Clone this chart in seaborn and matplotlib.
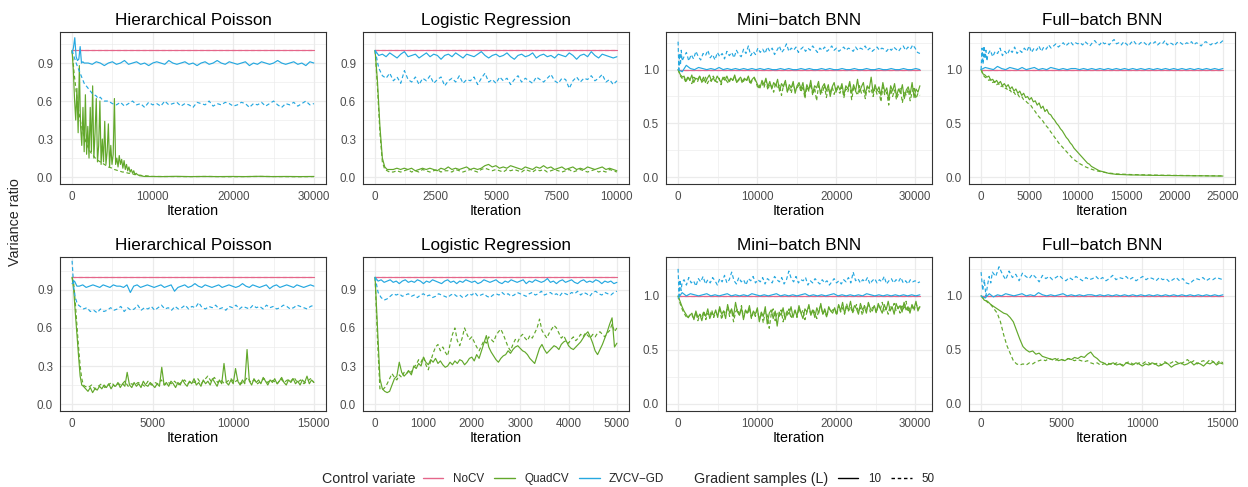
import numpy as np
import pandas as pd
import matplotlib
matplotlib.use("Agg")
import matplotlib.pyplot as plt
from matplotlib.lines import Line2D
import seaborn as sns

sns.set_theme(style="white")
plt.rcParams["font.family"] = ["Liberation Sans", "DejaVu Sans"]

# ---------------------------------------------------------------- data
CV_LEVELS = ["NoCV", "QuadCV", "ZVCV\u2212GD"]
L_LEVELS = [10, 50]
CV_COLORS = {"NoCV": "#E5668A", "QuadCV": "#62A82B", "ZVCV\u2212GD": "#25A8E0"}

TITLES = ["Hierarchical Poisson", "Logistic Regression",
          "Mini\u2212batch BNN", "Full\u2212batch BNN"]

# each series: list of (first iteration, last iteration, variance ratios on an even grid)
flat_hp1 = [(0, 30000, [1.0, 1.0])]
flat_lr1 = [(0, 10000, [1.0, 1.0])]
flat_mb = [(0, 30600, [1.0, 1.0])]
flat_fb1 = [(0, 25000, [1.0, 1.0])]
flat_hp2 = [(0, 15000, [1.0, 1.0])]
flat_lr2 = [(0, 5000, [1.0, 1.0])]
flat_fb2 = [(0, 15000, [1.0, 1.0])]

# Hierarchical Poisson, top row
hp1_quad10 = [
    (0, 9000, [1.00, 0.85, 0.62, 0.45, 0.70, 0.35, 0.88, 0.40, 0.25, 0.55, 0.20, 0.65, 0.18, 0.40,
               0.15, 0.55, 0.20, 0.72, 0.15, 0.35, 0.62, 0.12, 0.25, 0.60, 0.10, 0.30, 0.12, 0.44,
               0.10, 0.20, 0.42, 0.08, 0.25, 0.10, 0.18, 0.62, 0.10, 0.15, 0.08, 0.17, 0.10, 0.14,
               0.07, 0.13, 0.06, 0.10, 0.05, 0.08, 0.04, 0.06, 0.03, 0.05, 0.02, 0.03, 0.02, 0.015,
               0.01, 0.01, 0.008, 0.006, 0.005]),
    (9500, 30000, [0.005, 0.004, 0.006, 0.004, 0.005, 0.004, 0.005, 0.004, 0.006, 0.004, 0.005,
                   0.004, 0.005]),
]
hp1_quad50 = [
    (0, 10000, [1.00, 0.82, 0.68, 0.55, 0.45, 0.38, 0.32, 0.27, 0.23, 0.20, 0.18, 0.16, 0.14, 0.13,
                0.12, 0.11, 0.10, 0.09, 0.08, 0.075, 0.07, 0.06, 0.055, 0.05, 0.045, 0.04, 0.04,
                0.035, 0.03, 0.03, 0.025, 0.02, 0.02, 0.015, 0.015, 0.01, 0.01, 0.01, 0.008, 0.006,
                0.005]),
    (10500, 30000, [0.005, 0.004, 0.004, 0.005, 0.003, 0.004, 0.005, 0.004, 0.003, 0.004]),
]
hp1_zv10 = [
    (0, 1500, [0.98, 1.02, 1.10, 0.95, 0.92, 0.93, 1.03, 0.90, 0.91, 0.90]),
    (2000, 30000, [0.90, 0.89, 0.91, 0.90, 0.88, 0.90, 0.91, 0.89, 0.90, 0.92, 0.89, 0.90, 0.91, 0.89,
                   0.90, 0.88, 0.90, 0.91, 0.90, 0.89, 0.92, 0.90, 0.89, 0.90, 0.91, 0.89, 0.90, 0.88,
                   0.90, 0.91, 0.89, 0.90, 0.92, 0.90, 0.89, 0.91, 0.90, 0.89, 0.90, 0.91, 0.88, 0.90,
                   0.89, 0.91, 0.90, 0.89, 0.90, 0.92, 0.90, 0.89, 0.90, 0.91, 0.89, 0.90, 0.88, 0.91,
                   0.90]),
]
hp1_zv50 = [
    (0, 4000, [1.00, 0.95, 0.90, 0.86, 0.82, 0.78, 0.74, 0.72, 0.70, 0.68, 0.66, 0.65, 0.64, 0.62,
               0.63, 0.61, 0.60]),
    (4500, 30000, [0.60, 0.58, 0.57, 0.59, 0.56, 0.58, 0.60, 0.57, 0.58, 0.55, 0.59, 0.57, 0.58, 0.56,
                   0.60, 0.57, 0.58, 0.59, 0.56, 0.58, 0.57, 0.55, 0.59, 0.58, 0.57, 0.60, 0.56, 0.58,
                   0.57, 0.59, 0.58, 0.56, 0.57, 0.59, 0.58, 0.55, 0.58, 0.57, 0.59, 0.56, 0.58, 0.60,
                   0.57, 0.55, 0.58, 0.57, 0.59, 0.56, 0.58, 0.60, 0.57, 0.58]),
]

# Logistic Regression, top row
lr1_quad10 = [
    (0, 600, [1.00, 0.75, 0.40, 0.15, 0.08, 0.06, 0.06]),
    (750, 10000, [0.06, 0.07, 0.06, 0.07, 0.06, 0.07, 0.05, 0.06, 0.07, 0.06, 0.07, 0.06, 0.05, 0.07,
                  0.06, 0.08, 0.06, 0.07, 0.06, 0.07, 0.08, 0.06, 0.07, 0.06, 0.07, 0.09, 0.10, 0.08,
                  0.09, 0.07, 0.08, 0.07, 0.09, 0.08, 0.07, 0.06, 0.08, 0.07, 0.06, 0.08, 0.07, 0.09,
                  0.07, 0.08, 0.06, 0.07, 0.08, 0.06, 0.07, 0.08, 0.06, 0.07, 0.06, 0.08, 0.07, 0.06,
                  0.07, 0.08, 0.06, 0.07, 0.06, 0.05]),
]
lr1_quad50 = [
    (0, 600, [1.00, 0.70, 0.35, 0.12, 0.06, 0.05, 0.04]),
    (750, 10000, [0.04, 0.05, 0.04, 0.05, 0.06, 0.04, 0.05, 0.04, 0.06, 0.05, 0.04, 0.05, 0.06, 0.04,
                  0.05, 0.05, 0.04, 0.06, 0.05, 0.04, 0.05, 0.06, 0.05, 0.04, 0.06, 0.07, 0.06, 0.05,
                  0.06, 0.05, 0.04, 0.06, 0.05, 0.06, 0.05, 0.04, 0.06, 0.05, 0.04, 0.06, 0.05, 0.06,
                  0.04, 0.05, 0.06, 0.05, 0.04, 0.05, 0.06, 0.04, 0.05, 0.06, 0.05, 0.04, 0.05, 0.06,
                  0.04, 0.05, 0.04, 0.06, 0.05, 0.04]),
]
lr1_zv10 = [
    (0, 10000, [1.00, 0.96, 0.97, 0.95, 0.98, 0.96, 0.94, 0.97, 0.99, 0.95, 0.96, 0.97, 0.94, 0.96,
                0.98, 0.95, 0.97, 0.96, 0.93, 0.96, 0.97, 0.95, 0.98, 0.96, 0.94, 0.97, 0.96, 0.95,
                0.97, 0.99, 0.96, 0.94, 0.96, 0.97, 0.95, 0.96, 0.98, 0.95, 0.93, 0.96, 0.97, 0.95,
                0.96, 0.98, 0.94, 0.96, 0.97, 0.95, 0.96, 0.94, 0.97, 0.96, 0.95, 0.98, 0.96, 0.93,
                0.96, 0.97, 0.95, 0.99, 0.96, 0.94, 0.97, 0.96, 0.95, 0.94, 0.95]),
]
lr1_zv50 = [
    (0, 10000, [1.00, 0.86, 0.80, 0.78, 0.82, 0.76, 0.79, 0.74, 0.84, 0.77, 0.75, 0.79, 0.73, 0.78,
                0.76, 0.80, 0.74, 0.77, 0.79, 0.72, 0.76, 0.78, 0.75, 0.80, 0.74, 0.77, 0.76, 0.79,
                0.73, 0.78, 0.82, 0.75, 0.77, 0.74, 0.79, 0.76, 0.78, 0.73, 0.77, 0.80, 0.75, 0.78,
                0.76, 0.74, 0.79, 0.77, 0.75, 0.78, 0.81, 0.76, 0.74, 0.78, 0.77, 0.70, 0.76, 0.79,
                0.75, 0.78, 0.77, 0.80, 0.76, 0.78, 0.81, 0.75, 0.77, 0.73, 0.76]),
]

# Mini-batch BNN, top row
mb1_quad10 = [
    (0, 600, [1.00, 0.95, 0.93]),
    (750, 30600, [0.94, 0.89, 0.93, 0.90, 0.95, 0.88, 0.92, 0.91, 0.94, 0.89, 0.93, 0.88, 0.92, 0.95,
                  0.90, 0.92, 0.89, 0.94, 0.91, 0.88, 0.93, 0.90, 0.94, 0.89, 0.92, 0.90, 0.95, 0.88,
                  0.91, 0.93, 0.89, 0.92, 0.90, 0.94, 0.88, 0.91, 0.93, 0.89, 0.85, 0.83,
                  0.90, 0.86, 0.92, 0.84, 0.89, 0.82, 0.88, 0.85, 0.91, 0.80, 0.87, 0.84, 0.90, 0.79,
                  0.86, 0.83, 0.89, 0.78, 0.85, 0.88,
                  0.82, 0.88, 0.76, 0.86, 0.81, 0.90, 0.78, 0.85, 0.83, 0.89, 0.77, 0.84, 0.87, 0.80,
                  0.86, 0.75, 0.84, 0.88, 0.79, 0.85,
                  0.81, 0.87, 0.76, 0.85, 0.82, 0.89, 0.78, 0.86, 0.80, 0.91, 0.79, 0.84, 0.88, 0.77,
                  0.85, 0.82, 0.93, 0.78, 0.86, 0.80,
                  0.84, 0.76, 0.88, 0.79, 0.83, 0.72, 0.85, 0.80, 0.87, 0.75, 0.82, 0.78, 0.86, 0.73,
                  0.81, 0.84, 0.77, 0.88, 0.74, 0.82, 0.79, 0.85]),
]
mb1_quad50 = [
    (0, 600, [1.00, 0.94, 0.91]),
    (750, 30600, [0.92, 0.88, 0.94, 0.90, 0.87, 0.93, 0.91, 0.89, 0.94, 0.88, 0.90, 0.93, 0.87, 0.91,
                  0.89, 0.94, 0.90, 0.88, 0.92, 0.86, 0.91, 0.93, 0.89, 0.87, 0.92, 0.90, 0.94, 0.88,
                  0.90, 0.92, 0.87, 0.91, 0.89, 0.93, 0.86, 0.90, 0.92, 0.88, 0.82, 0.86,
                  0.88, 0.83, 0.90, 0.81, 0.87, 0.84, 0.79, 0.88, 0.82, 0.86, 0.76, 0.85, 0.89, 0.80,
                  0.84, 0.78, 0.87, 0.81, 0.83, 0.86,
                  0.79, 0.85, 0.73, 0.84, 0.80, 0.87, 0.76, 0.83, 0.71, 0.85, 0.81, 0.78, 0.86, 0.74,
                  0.82, 0.79, 0.84, 0.77, 0.83, 0.80,
                  0.78, 0.84, 0.74, 0.82, 0.79, 0.86, 0.72, 0.83, 0.80, 0.76, 0.85, 0.78, 0.81, 0.73,
                  0.84, 0.79, 0.82, 0.75, 0.83, 0.77,
                  0.80, 0.70, 0.84, 0.76, 0.79, 0.67, 0.82, 0.75, 0.81, 0.72, 0.78, 0.83, 0.69, 0.80,
                  0.76, 0.82, 0.71, 0.79, 0.84, 0.73, 0.78, 0.76]),
]
mb1_zv10 = [
    (0, 30600, [1.00, 0.98, 1.04, 1.01, 1.00, 1.02, 1.01, 1.00, 1.01, 1.00, 1.02, 1.00, 1.01, 1.00,
                1.01, 1.00, 1.01, 1.00, 1.01, 1.00, 1.01, 1.00, 1.01, 1.00, 1.00, 1.01, 1.00, 1.01,
                1.00, 1.00, 1.01, 1.00, 1.01, 1.00, 1.00, 1.01, 1.00, 1.01, 1.00, 1.00, 1.01, 1.00,
                1.00, 1.01, 1.00, 1.00, 1.01, 1.00, 1.00, 1.01, 1.00, 1.00, 1.01, 1.00, 1.00, 1.01,
                1.00, 1.00, 1.01, 1.00]),
]
mb1_zv50 = [
    (0, 500, [1.26, 1.00, 1.15, 1.04, 1.18, 1.08]),
    (750, 30600, [1.12, 1.16, 1.08, 1.14, 1.10, 1.17, 1.12, 1.09, 1.15, 1.13, 1.18, 1.11, 1.14, 1.09,
                  1.16, 1.12, 1.15, 1.10, 1.17, 1.13, 1.16, 1.11, 1.18, 1.14, 1.12, 1.19, 1.15, 1.22,
                  1.13, 1.17, 1.14, 1.20,
                  1.16, 1.19, 1.15, 1.21, 1.17, 1.20, 1.14, 1.18, 1.22, 1.16, 1.19, 1.24, 1.17, 1.20,
                  1.18, 1.21, 1.16,
                  1.19, 1.21, 1.17, 1.20, 1.18, 1.22, 1.19, 1.16, 1.20, 1.18, 1.21, 1.17, 1.19, 1.22,
                  1.18, 1.20, 1.17, 1.19, 1.21, 1.18, 1.20, 1.19, 1.17, 1.21, 1.18, 1.20, 1.19, 1.22,
                  1.18, 1.20, 1.17, 1.19, 1.21, 1.18, 1.20, 1.19, 1.17, 1.20, 1.18, 1.21, 1.19, 1.17,
                  1.20, 1.22, 1.18, 1.21, 1.19, 1.23, 1.20, 1.16, 1.15]),
]

# Full-batch BNN, top row
fb1_quad10 = [
    (0, 14000, [1.00, 0.96, 0.95, 0.93, 0.94, 0.90, 0.91, 0.88, 0.90, 0.87, 0.89, 0.85, 0.87, 0.84,
                0.86, 0.82, 0.84, 0.80, 0.82, 0.78, 0.80, 0.76, 0.78, 0.74, 0.75, 0.72, 0.74, 0.70,
                0.71, 0.67, 0.69, 0.64, 0.66, 0.61, 0.63, 0.59, 0.58, 0.55, 0.53, 0.50, 0.48, 0.45,
                0.43, 0.40, 0.37, 0.35, 0.32, 0.30, 0.27, 0.25, 0.23, 0.21, 0.19, 0.17, 0.15, 0.13,
                0.12, 0.10, 0.09, 0.08, 0.07, 0.06, 0.055, 0.05, 0.045, 0.04, 0.035, 0.032, 0.03,
                0.028, 0.025]),
    (14500, 25000, [0.024, 0.022, 0.02, 0.02, 0.019, 0.018, 0.017, 0.016, 0.016, 0.015, 0.015,
                    0.014, 0.014, 0.013, 0.013, 0.012, 0.012, 0.012, 0.011, 0.011, 0.01, 0.01]),
]
fb1_quad50 = [
    (0, 14000, [1.00, 0.95, 0.93, 0.92, 0.90, 0.91, 0.88, 0.89, 0.86, 0.87, 0.84, 0.85, 0.82, 0.83,
                0.80, 0.81, 0.78, 0.79, 0.76, 0.77, 0.74, 0.75, 0.72, 0.71, 0.69, 0.68, 0.66, 0.63,
                0.61, 0.58, 0.56, 0.54, 0.52, 0.49, 0.47, 0.45, 0.42, 0.40, 0.37, 0.35, 0.32, 0.30,
                0.28, 0.26, 0.24, 0.22, 0.20, 0.18, 0.165, 0.15, 0.14, 0.125, 0.115, 0.105, 0.095,
                0.088, 0.08, 0.074, 0.068, 0.062, 0.058, 0.054, 0.05, 0.047, 0.044, 0.041, 0.038,
                0.036, 0.034, 0.032, 0.03]),
    (14500, 25000, [0.028, 0.026, 0.024, 0.023, 0.022, 0.021, 0.02, 0.019, 0.018, 0.017, 0.017,
                    0.016, 0.016, 0.015, 0.015, 0.014, 0.014, 0.013, 0.013, 0.012, 0.012, 0.012]),
]
fb1_zv10 = [
    (0, 25000, [1.00, 1.02, 1.01, 1.00, 1.03, 1.01, 1.00, 1.02, 1.01, 1.00, 1.02, 1.00, 1.01, 1.02,
                1.00, 1.01, 1.00, 1.02, 1.01, 1.00, 1.01, 1.00, 1.01, 1.01, 1.00, 1.01, 1.00, 1.01,
                1.00, 1.01, 1.00, 1.01, 1.00, 1.01, 1.00, 1.01, 1.00, 1.01, 1.00, 1.01, 1.00, 1.01,
                1.00, 1.01, 1.00, 1.01, 1.00, 1.01, 1.00, 1.01, 1.00, 1.01, 1.00, 1.01, 1.00, 1.01,
                1.00, 1.01, 1.00, 1.01]),
]
fb1_zv50 = [
    (0, 600, [1.00, 1.20, 1.05, 1.22, 1.10, 1.18, 1.08]),
    (700, 10000, [1.14, 1.18, 1.12, 1.17, 1.15, 1.20, 1.13, 1.17, 1.14, 1.19, 1.16, 1.21, 1.15, 1.18,
                  1.16, 1.20, 1.17, 1.22, 1.16, 1.20, 1.18, 1.22, 1.17, 1.21, 1.19, 1.23, 1.20, 1.22,
                  1.24, 1.21, 1.23, 1.25, 1.22, 1.24, 1.26, 1.23, 1.25, 1.24]),
    (10250, 25000, [1.25, 1.23, 1.26, 1.24, 1.22, 1.25, 1.27, 1.24, 1.23, 1.26, 1.24, 1.25, 1.23,
                    1.26, 1.28, 1.24, 1.25, 1.23, 1.26, 1.24, 1.22, 1.25, 1.27, 1.24, 1.23, 1.25,
                    1.26, 1.24, 1.22, 1.25, 1.24, 1.26, 1.23, 1.25, 1.24, 1.27, 1.23, 1.25, 1.24,
                    1.22, 1.25, 1.26, 1.24, 1.23, 1.25, 1.24, 1.26, 1.23, 1.25, 1.24, 1.22, 1.25,
                    1.26, 1.24, 1.23, 1.25, 1.24, 1.26, 1.25, 1.27]),
]

# Hierarchical Poisson, bottom row
hp2_quad10 = [
    (0, 600, [1.00, 0.90, 0.72, 0.55, 0.38, 0.22, 0.15]),
    (700, 15000, [0.14, 0.12, 0.10, 0.13, 0.09, 0.12, 0.11, 0.14, 0.12, 0.15,
                  0.13, 0.16, 0.12, 0.15, 0.14, 0.17, 0.13, 0.16, 0.14, 0.25,
                  0.15, 0.13, 0.17, 0.14, 0.16, 0.13, 0.18, 0.15, 0.14, 0.17,
                  0.15, 0.13, 0.16, 0.14, 0.29, 0.15, 0.17, 0.14, 0.18, 0.16,
                  0.13, 0.17, 0.15, 0.19, 0.16, 0.14, 0.18, 0.16, 0.20, 0.15,
                  0.17, 0.14, 0.19, 0.16, 0.18, 0.15, 0.20, 0.17, 0.14, 0.19,
                  0.16, 0.32, 0.17, 0.15, 0.19, 0.16, 0.28, 0.18, 0.15, 0.19,
                  0.16, 0.43, 0.18, 0.15, 0.20, 0.17, 0.19, 0.16, 0.21, 0.18,
                  0.15, 0.19, 0.17, 0.20, 0.16, 0.18, 0.21, 0.17, 0.15, 0.19,
                  0.17, 0.20, 0.16, 0.18, 0.15, 0.19, 0.17, 0.22, 0.16, 0.19, 0.17]),
]
hp2_quad50 = [
    (0, 700, [1.00, 0.95, 0.80, 0.62, 0.45, 0.30, 0.20, 0.15]),
    (800, 15000, [0.14, 0.13, 0.15, 0.12, 0.14, 0.16, 0.13, 0.15, 0.17, 0.14, 0.16, 0.15, 0.18, 0.14,
                  0.16, 0.15, 0.17, 0.16, 0.14, 0.18, 0.15, 0.17, 0.16, 0.19, 0.15, 0.17, 0.16, 0.18,
                  0.15, 0.17, 0.19, 0.16, 0.18, 0.17, 0.20, 0.16, 0.19, 0.22, 0.18, 0.21, 0.17, 0.19,
                  0.16, 0.18, 0.20, 0.17, 0.19, 0.16, 0.18, 0.21, 0.17, 0.19, 0.16, 0.18, 0.20, 0.17,
                  0.19, 0.18, 0.16, 0.20, 0.17, 0.19, 0.18, 0.21, 0.17, 0.19, 0.16, 0.18, 0.20, 0.17]),
]
hp2_zv10 = [
    (0, 300, [0.95, 0.97, 0.93]),
    (450, 15000, [0.93, 0.94, 0.92, 0.93, 0.94, 0.93, 0.92, 0.94, 0.93, 0.92, 0.94, 0.93, 0.93, 0.92,
                  0.94, 0.88, 0.93, 0.94, 0.92, 0.93, 0.94, 0.93, 0.92, 0.93, 0.94, 0.92, 0.93, 0.94,
                  0.89, 0.92, 0.93, 0.94, 0.92, 0.93, 0.95, 0.93, 0.92, 0.94, 0.93, 0.92, 0.93, 0.94,
                  0.92, 0.93, 0.94, 0.93, 0.92, 0.93, 0.95, 0.93, 0.92, 0.94, 0.93, 0.92, 0.93, 0.94,
                  0.91, 0.93, 0.94, 0.92, 0.93, 0.94, 0.93, 0.92, 0.94, 0.93, 0.92, 0.93, 0.94, 0.93]),
]
hp2_zv50 = [
    (0, 400, [1.13, 0.92, 0.84, 0.80, 0.78]),
    (500, 15000, [0.77, 0.75, 0.76, 0.73, 0.74, 0.72, 0.75, 0.73, 0.74, 0.76, 0.74, 0.75, 0.77, 0.73,
                  0.76, 0.74, 0.75, 0.78, 0.74, 0.76, 0.75, 0.77, 0.74, 0.76, 0.78, 0.75, 0.76, 0.74,
                  0.77, 0.75, 0.76, 0.78, 0.75, 0.77, 0.76, 0.80, 0.76, 0.75, 0.77, 0.76, 0.78, 0.75,
                  0.76, 0.74, 0.77, 0.76, 0.78, 0.75, 0.77, 0.76, 0.75, 0.78, 0.76, 0.77, 0.75, 0.78,
                  0.76, 0.77, 0.75, 0.76, 0.78, 0.77, 0.75, 0.76, 0.78, 0.77, 0.76, 0.75, 0.77, 0.78]),
]

# Logistic Regression, bottom row
lr2_quad10 = [
    (0, 300, [1.00, 0.60, 0.20, 0.12, 0.10, 0.09, 0.10]),
    (350, 5000, [0.15, 0.20, 0.22, 0.33, 0.25, 0.22, 0.24, 0.26, 0.23, 0.30,
                 0.28, 0.32, 0.30, 0.37, 0.33, 0.31, 0.35, 0.33, 0.36, 0.32,
                 0.34, 0.31, 0.29, 0.30, 0.33, 0.31, 0.34, 0.32, 0.35, 0.34,
                 0.31, 0.33, 0.36, 0.37, 0.34, 0.39, 0.36, 0.42, 0.48, 0.54,
                 0.45, 0.41, 0.38, 0.35, 0.33, 0.36, 0.38, 0.39, 0.42, 0.40,
                 0.43, 0.45, 0.46, 0.44, 0.42, 0.41, 0.39, 0.36, 0.34, 0.32,
                 0.38, 0.44, 0.47, 0.43, 0.40, 0.42, 0.44, 0.46, 0.45, 0.43,
                 0.47, 0.49, 0.50, 0.46, 0.44, 0.43, 0.45, 0.47, 0.49, 0.52,
                 0.55, 0.57, 0.53, 0.48, 0.42, 0.39, 0.43, 0.47, 0.52, 0.57,
                 0.63, 0.68, 0.45, 0.48]),
]
lr2_quad50 = [
    (0, 200, [1.00, 0.50, 0.12, 0.11, 0.13]),
    (250, 5000, [0.16, 0.20, 0.24, 0.21, 0.19, 0.23, 0.21, 0.25, 0.24, 0.27,
                 0.25, 0.29, 0.31, 0.35, 0.33, 0.37, 0.31, 0.27, 0.34, 0.40,
                 0.45, 0.47, 0.42, 0.45, 0.41, 0.38, 0.47, 0.55, 0.60, 0.50,
                 0.46, 0.52, 0.60, 0.55, 0.51, 0.53, 0.49, 0.45, 0.42, 0.46,
                 0.50, 0.48, 0.53, 0.51, 0.49, 0.54, 0.57, 0.59, 0.55, 0.50,
                 0.45, 0.42, 0.47, 0.51, 0.49, 0.53, 0.55, 0.52, 0.50, 0.54,
                 0.52, 0.56, 0.60, 0.67, 0.58, 0.55, 0.52, 0.56, 0.59, 0.62,
                 0.60, 0.56, 0.52, 0.54, 0.50, 0.48, 0.51, 0.53, 0.50, 0.52,
                 0.55, 0.53, 0.56, 0.54, 0.52, 0.55, 0.53, 0.56, 0.57, 0.55,
                 0.53, 0.56, 0.58, 0.63, 0.57, 0.60]),
]
lr2_zv10 = [
    (0, 5000, [1.00, 0.97, 0.98, 0.96, 0.97, 0.98, 0.96, 0.97, 0.95, 0.97, 0.98, 0.96, 0.97, 0.96,
               0.98, 0.97, 0.95, 0.97, 0.96, 0.98, 0.97, 0.96, 0.95, 0.97, 0.98, 0.96, 0.97, 0.95,
               0.97, 0.96, 0.98, 0.97, 0.96, 0.97, 0.95, 0.96, 0.98, 0.97, 0.96, 0.97, 0.98, 0.96,
               0.95, 0.97, 0.96, 0.98, 0.97, 0.96, 0.97, 0.98, 0.95, 0.97, 0.96, 0.98, 0.97, 0.96,
               0.97, 0.99, 0.96, 0.97, 0.95, 0.97, 0.98, 0.96, 0.97, 0.98, 0.96, 0.95, 0.97, 0.98,
               0.96, 0.97, 0.96, 0.98, 0.97, 0.95, 0.97, 0.96, 0.97, 0.95, 0.96]),
]
lr2_zv50 = [
    (0, 5000, [1.00, 0.88, 0.84, 0.82, 0.83, 0.85, 0.87, 0.86, 0.87, 0.85, 0.86, 0.87, 0.85, 0.86,
               0.84, 0.86, 0.87, 0.85, 0.86, 0.84, 0.85, 0.87, 0.86, 0.85, 0.84, 0.86, 0.87, 0.85,
               0.86, 0.84, 0.85, 0.87, 0.86, 0.88, 0.85, 0.86, 0.87, 0.85, 0.84, 0.86, 0.87, 0.86,
               0.88, 0.86, 0.87, 0.85, 0.86, 0.88, 0.87, 0.86, 0.85, 0.87, 0.88, 0.86, 0.87, 0.89,
               0.86, 0.87, 0.88, 0.86, 0.87, 0.85, 0.88, 0.87, 0.86, 0.88, 0.87, 0.89, 0.86, 0.88,
               0.87, 0.85, 0.88, 0.89, 0.87, 0.86, 0.88, 0.87, 0.86, 0.88, 0.89]),
]

# Mini-batch BNN, bottom row
mb2_quad10 = [
    (0, 1500, [1.00, 0.95, 0.90, 0.86, 0.83, 0.80, 0.82]),
    (1750, 30600, [0.84, 0.78, 0.86, 0.80, 0.83, 0.77, 0.85, 0.81, 0.88, 0.79, 0.84, 0.82,
                   0.87, 0.80, 0.90, 0.83, 0.86, 0.79, 0.92, 0.84, 0.88, 0.81, 0.94, 0.85, 0.82,
                   0.89, 0.78, 0.87, 0.84, 0.91, 0.80, 0.86,
                   0.83, 0.89, 0.76, 0.85, 0.81, 0.90, 0.74, 0.84, 0.87, 0.79, 0.86, 0.72, 0.85,
                   0.82, 0.89, 0.78, 0.86, 0.83, 0.90, 0.80,
                   0.87, 0.81, 0.91, 0.84, 0.79, 0.88, 0.85, 0.92, 0.82, 0.87, 0.80, 0.89, 0.84,
                   0.93, 0.83, 0.88, 0.81, 0.90, 0.86, 0.84,
                   0.89, 0.83, 0.92, 0.86, 0.94, 0.84, 0.90, 0.87, 0.95, 0.85, 0.91, 0.88, 0.83,
                   0.93, 0.87, 0.90, 0.84, 0.94, 0.88, 0.86,
                   0.91, 0.85, 0.93, 0.88, 0.84, 0.92, 0.87, 0.95, 0.86, 0.90, 0.83, 0.93, 0.88,
                   0.91, 0.85, 0.94, 0.87, 0.90, 0.84, 0.92, 0.88, 0.95, 0.86, 0.90]),
]
mb2_quad50 = [
    (0, 1500, [1.00, 0.93, 0.88, 0.84, 0.81, 0.79, 0.83]),
    (1750, 30600, [0.82, 0.79, 0.85, 0.77, 0.83, 0.80, 0.86, 0.78, 0.84, 0.81, 0.87, 0.80,
                   0.85, 0.82, 0.89, 0.78, 0.86, 0.83, 0.90, 0.81, 0.87, 0.76, 0.85, 0.88, 0.82,
                   0.91, 0.80, 0.86, 0.83, 0.89, 0.79, 0.85,
                   0.81, 0.87, 0.78, 0.84, 0.75, 0.86, 0.82, 0.70, 0.83, 0.88, 0.77, 0.84, 0.81,
                   0.87, 0.76, 0.85, 0.82, 0.88, 0.79, 0.84,
                   0.86, 0.80, 0.89, 0.83, 0.87, 0.78, 0.85, 0.90, 0.82, 0.88, 0.84, 0.79, 0.87,
                   0.91, 0.83, 0.86, 0.80, 0.89, 0.85, 0.87,
                   0.88, 0.82, 0.91, 0.85, 0.89, 0.83, 0.93, 0.86, 0.90, 0.84, 0.88, 0.92, 0.85,
                   0.89, 0.82, 0.91, 0.87, 0.93, 0.85, 0.89,
                   0.90, 0.84, 0.92, 0.87, 0.94, 0.85, 0.89, 0.83, 0.91, 0.88, 0.93, 0.86, 0.90,
                   0.84, 0.92, 0.87, 0.95, 0.85, 0.89, 0.91, 0.86, 0.93, 0.88, 0.90]),
]
mb2_zv10 = [
    (0, 30600, [0.98, 1.03, 1.00, 1.02, 1.01, 1.00, 1.01, 1.02, 1.00, 1.01, 1.00, 1.01, 1.02, 1.00,
                1.01, 1.00, 1.01, 1.00, 1.02, 1.01, 1.00, 1.01, 1.00, 1.01, 1.02, 1.00, 1.01, 1.00,
                1.01, 1.00, 1.01, 1.02, 1.00, 1.01, 1.00, 1.01, 1.00, 1.01, 1.02, 1.00, 1.01, 1.00,
                1.01, 1.00, 1.01, 1.00, 1.02, 1.01, 1.00, 1.01, 1.00, 1.01, 1.00, 1.01, 1.00, 1.01,
                1.00, 1.01, 1.00, 1.01]),
]
mb2_zv50 = [
    (0, 500, [1.25, 1.00, 1.15, 1.05, 1.12]),
    (750, 30600, [1.15, 1.10, 1.17, 1.12, 1.14, 1.09, 1.16, 1.13, 1.18, 1.11, 1.15, 1.12, 1.17, 1.14,
                  1.10, 1.16, 1.13, 1.19, 1.12, 1.15, 1.22, 1.14, 1.11, 1.17, 1.13, 1.15, 1.10, 1.16,
                  1.14, 1.18, 1.12, 1.15, 1.13, 1.17, 1.11, 1.16, 1.14, 1.12, 1.18, 1.15, 1.13, 1.17,
                  1.11, 1.15, 1.23, 1.16, 1.13, 1.18, 1.12, 1.15, 1.14, 1.17, 1.10, 1.14, 1.12, 1.16,
                  1.13, 1.11, 1.15, 1.12, 1.14, 1.10, 1.13, 1.16, 1.12, 1.14, 1.11, 1.15, 1.13, 1.17,
                  1.12, 1.22, 1.14, 1.16, 1.12, 1.15, 1.13, 1.17, 1.11, 1.14, 1.16, 1.12, 1.15, 1.13,
                  1.18, 1.11, 1.14, 1.16, 1.12, 1.15, 1.13, 1.17, 1.12, 1.14, 1.11, 1.15, 1.13, 1.14,
                  1.12, 1.13]),
]

# Full-batch BNN, bottom row
fb2_quad10 = [
    (0, 8000, [1.00, 0.96, 0.95, 0.92, 0.90, 0.88, 0.86, 0.84, 0.83, 0.80, 0.76, 0.68, 0.60, 0.53,
               0.50, 0.48, 0.49, 0.46, 0.47, 0.44, 0.43, 0.42, 0.41, 0.42, 0.40, 0.41, 0.40, 0.42,
               0.41, 0.43, 0.42, 0.44, 0.43, 0.46, 0.48, 0.44, 0.42, 0.39, 0.38, 0.36, 0.37]),
    (8200, 15000, [0.38, 0.36, 0.37, 0.35, 0.38, 0.37, 0.36, 0.38, 0.37, 0.35, 0.37, 0.36, 0.38,
                   0.37, 0.35, 0.36, 0.38, 0.37, 0.34, 0.36, 0.37, 0.38, 0.36, 0.37, 0.39, 0.36,
                   0.38, 0.37, 0.35, 0.38, 0.37, 0.39, 0.36, 0.38, 0.37]),
]
fb2_quad50 = [
    (0, 8000, [1.00, 0.97, 0.94, 0.92, 0.88, 0.84, 0.76, 0.64, 0.54, 0.47, 0.40, 0.37, 0.36, 0.37,
               0.36, 0.38, 0.37, 0.39, 0.40, 0.41, 0.40, 0.42, 0.41, 0.40, 0.42, 0.41, 0.40, 0.42,
               0.41, 0.40, 0.41, 0.40, 0.39, 0.40, 0.38, 0.37, 0.38, 0.36, 0.37, 0.38, 0.37]),
    (8200, 15000, [0.36, 0.38, 0.37, 0.36, 0.38, 0.39, 0.37, 0.36, 0.38, 0.37, 0.39, 0.38, 0.36,
                   0.37, 0.38, 0.36, 0.39, 0.37, 0.38, 0.40, 0.38, 0.37, 0.39, 0.41, 0.38, 0.40,
                   0.37, 0.39, 0.40, 0.38, 0.41, 0.39, 0.37, 0.40, 0.38]),
]
fb2_zv10 = [
    (0, 15000, [1.00, 0.98, 1.02, 0.99, 1.01, 1.00, 1.02, 1.01, 1.00, 1.01, 1.02, 1.00, 1.01, 1.00,
                1.03, 1.01, 1.00, 1.01, 1.00, 1.01, 1.02, 1.00, 1.01, 1.00, 1.01, 1.00, 1.01, 1.01,
                1.00, 1.01, 1.00, 1.01, 1.00, 1.01, 1.00, 1.01, 1.00, 1.01, 1.00, 1.01, 1.00, 1.01,
                1.00, 1.01, 1.00, 1.01, 1.00, 1.01, 1.00, 1.01, 1.00, 1.01, 1.00, 1.01, 1.00, 1.01,
                1.00, 1.01, 1.00, 1.01]),
]
fb2_zv50 = [
    (0, 600, [1.22, 1.05, 1.15, 1.00, 1.10, 1.18, 1.12]),
    (700, 15000, [1.22, 1.18, 1.27, 1.20, 1.15, 1.23, 1.17, 1.20, 1.14, 1.21, 1.18, 1.16, 1.20, 1.17,
                  1.13, 1.19, 1.16, 1.18, 1.15, 1.17, 1.19, 1.16, 1.14, 1.17, 1.15, 1.18, 1.16, 1.14,
                  1.17, 1.15, 1.16, 1.18, 1.15, 1.17, 1.14, 1.16, 1.19, 1.15, 1.17, 1.16, 1.18, 1.15,
                  1.17, 1.14, 1.16, 1.18, 1.15, 1.17, 1.16, 1.14, 1.17, 1.15, 1.16, 1.13, 1.15, 1.17,
                  1.14, 1.16, 1.12, 1.11, 1.14, 1.16, 1.15, 1.17, 1.14, 1.16, 1.15, 1.17, 1.16, 1.15]),
]

# panel contents: (row, col, series by (cv, L), iteration max, y limits, x ticks, y ticks)
PANELS = [
    (0, 0, {("NoCV", 10): flat_hp1, ("NoCV", 50): flat_hp1, ("QuadCV", 10): hp1_quad10,
            ("QuadCV", 50): hp1_quad50, ("ZVCV\u2212GD", 10): hp1_zv10, ("ZVCV\u2212GD", 50): hp1_zv50},
     30000, (-0.0545, 1.145), [0, 10000, 20000, 30000], [0.0, 0.3, 0.6, 0.9]),
    (0, 1, {("NoCV", 10): flat_lr1, ("NoCV", 50): flat_lr1, ("QuadCV", 10): lr1_quad10,
            ("QuadCV", 50): lr1_quad50, ("ZVCV\u2212GD", 10): lr1_zv10, ("ZVCV\u2212GD", 50): lr1_zv50},
     10000, (-0.0545, 1.145), [0, 2500, 5000, 7500, 10000], [0.0, 0.3, 0.6, 0.9]),
    (0, 2, {("NoCV", 10): flat_mb, ("NoCV", 50): flat_mb, ("QuadCV", 10): mb1_quad10,
            ("QuadCV", 50): mb1_quad50, ("ZVCV\u2212GD", 10): mb1_zv10, ("ZVCV\u2212GD", 50): mb1_zv50},
     30600, (-0.064, 1.35), [0, 10000, 20000, 30000], [0.0, 0.5, 1.0]),
    (0, 3, {("NoCV", 10): flat_fb1, ("NoCV", 50): flat_fb1, ("QuadCV", 10): fb1_quad10,
            ("QuadCV", 50): fb1_quad50, ("ZVCV\u2212GD", 10): fb1_zv10, ("ZVCV\u2212GD", 50): fb1_zv50},
     25000, (-0.064, 1.35), [0, 5000, 10000, 15000, 20000, 25000], [0.0, 0.5, 1.0]),
    (1, 0, {("NoCV", 10): flat_hp2, ("NoCV", 50): flat_hp2, ("QuadCV", 10): hp2_quad10,
            ("QuadCV", 50): hp2_quad50, ("ZVCV\u2212GD", 10): hp2_zv10, ("ZVCV\u2212GD", 50): hp2_zv50},
     15000, (-0.055, 1.16), [0, 5000, 10000, 15000], [0.0, 0.3, 0.6, 0.9]),
    (1, 1, {("NoCV", 10): flat_lr2, ("NoCV", 50): flat_lr2, ("QuadCV", 10): lr2_quad10,
            ("QuadCV", 50): lr2_quad50, ("ZVCV\u2212GD", 10): lr2_zv10, ("ZVCV\u2212GD", 50): lr2_zv50},
     5000, (-0.055, 1.16), [0, 1000, 2000, 3000, 4000, 5000], [0.0, 0.3, 0.6, 0.9]),
    (1, 2, {("NoCV", 10): flat_mb, ("NoCV", 50): flat_mb, ("QuadCV", 10): mb2_quad10,
            ("QuadCV", 50): mb2_quad50, ("ZVCV\u2212GD", 10): mb2_zv10, ("ZVCV\u2212GD", 50): mb2_zv50},
     30600, (-0.066, 1.36), [0, 10000, 20000, 30000], [0.0, 0.5, 1.0]),
    (1, 3, {("NoCV", 10): flat_fb2, ("NoCV", 50): flat_fb2, ("QuadCV", 10): fb2_quad10,
            ("QuadCV", 50): fb2_quad50, ("ZVCV\u2212GD", 10): fb2_zv10, ("ZVCV\u2212GD", 50): fb2_zv50},
     15000, (-0.066, 1.36), [0, 5000, 10000, 15000], [0.0, 0.5, 1.0]),
]


def expand(segments):
    xs, ys = [], []
    for x0, x1, vals in segments:
        xs.append(np.linspace(x0, x1, len(vals)))
        ys.append(np.asarray(vals, dtype=float))
    return np.concatenate(xs), np.concatenate(ys)


def panel_frame(series):
    parts = []
    for (cv, L), segs in series.items():
        x, y = expand(segs)
        parts.append(pd.DataFrame({"Iteration": x, "ratio": y, "cv": cv, "L": L}))
    return pd.concat(parts, ignore_index=True)


# ---------------------------------------------------------------- layout
W, H = 1248, 487
fig = plt.figure(figsize=(W / 100, H / 100), dpi=100)
fig.patch.set_facecolor("white")

COL_PX = [(60, 326), (363, 629), (666, 932), (969, 1235)]
ROW_PX = [(32, 184), (257, 411)]

GRID = "#EBEBEB"
BORDER = "#333333"
DASHES = {10: "", 50: (3.2, 2.2)}

for row, col, series, xmax, ylim, xticks, yticks in PANELS:
    l, r = COL_PX[col]
    t, b = ROW_PX[row]
    ax = fig.add_axes([l / W, 1 - b / H, (r - l) / W, (b - t) / H])
    ax.set_facecolor("white")
    ax.set_axisbelow(True)

    df = panel_frame(series)
    sns.lineplot(data=df, x="Iteration", y="ratio", hue="cv", style="L",
                 hue_order=CV_LEVELS, style_order=L_LEVELS, palette=CV_COLORS,
                 dashes=DASHES, estimator=None, errorbar=None, linewidth=0.85,
                 legend=False, ax=ax)

    ax.set_xticks(xticks)
    ax.set_xticklabels([f"{v:d}" for v in xticks])
    step_x = xticks[1] - xticks[0]
    ax.set_xticks([v + step_x / 2 for v in xticks], minor=True)
    ax.set_yticks(yticks)
    ax.set_yticklabels([f"{v:.1f}" for v in yticks])
    step_y = yticks[1] - yticks[0]
    ax.set_yticks([v + step_y / 2 for v in yticks], minor=True)
    # limits last, so the tick lists cannot widen the view
    ax.set_xlim(-0.05 * xmax, 1.05 * xmax)
    ax.set_ylim(*ylim)

    ax.grid(which="major", color=GRID, linewidth=0.9)
    ax.grid(which="minor", color=GRID, linewidth=0.45)
    ax.tick_params(which="major", length=3, width=0.7, color=BORDER, labelcolor="#4D4D4D",
                   labelsize=8.4, pad=2)
    ax.tick_params(which="minor", length=0)
    for sp in ax.spines.values():
        sp.set_color(BORDER)
        sp.set_linewidth(0.8)

    ax.set_title(TITLES[col], fontsize=12.3, pad=5, color="black")
    ax.set_xlabel("Iteration", fontsize=10.3, labelpad=1, color="black")
    ax.set_ylabel("")

fig.text(15 / W, 1 - 222 / H, "Variance ratio", rotation=90, fontsize=10.3,
         ha="center", va="center")

# ---------------------------------------------------------------- legends
LEG_Y = 1 - 479 / H
fig.text(322 / W, LEG_Y, "Control variate", fontsize=10.3, ha="left", va="center")
cv_handles = [Line2D([], [], color=CV_COLORS[c], lw=1.0) for c in CV_LEVELS]
fig.legend(cv_handles, CV_LEVELS, loc="center left", bbox_to_anchor=(423 / W, LEG_Y),
           ncol=3, frameon=False, fontsize=8.4, handlelength=1.75, handletextpad=0.8,
           columnspacing=0.9, borderpad=0, borderaxespad=0)

fig.text(694 / W, LEG_Y, "Gradient samples (L)", fontsize=10.3, ha="left", va="center")
l_handles = [Line2D([], [], color="black", lw=1.0),
             Line2D([], [], color="black", lw=1.0, dashes=(2.5, 2))]
fig.legend(l_handles, ["10", "50"], loc="center left", bbox_to_anchor=(838 / W, LEG_Y),
           ncol=2, frameon=False, fontsize=8.4, handlelength=1.75, handletextpad=0.8,
           columnspacing=0.9, borderpad=0, borderaxespad=0)

fig.savefig("out.png", dpi=100, facecolor="white")
